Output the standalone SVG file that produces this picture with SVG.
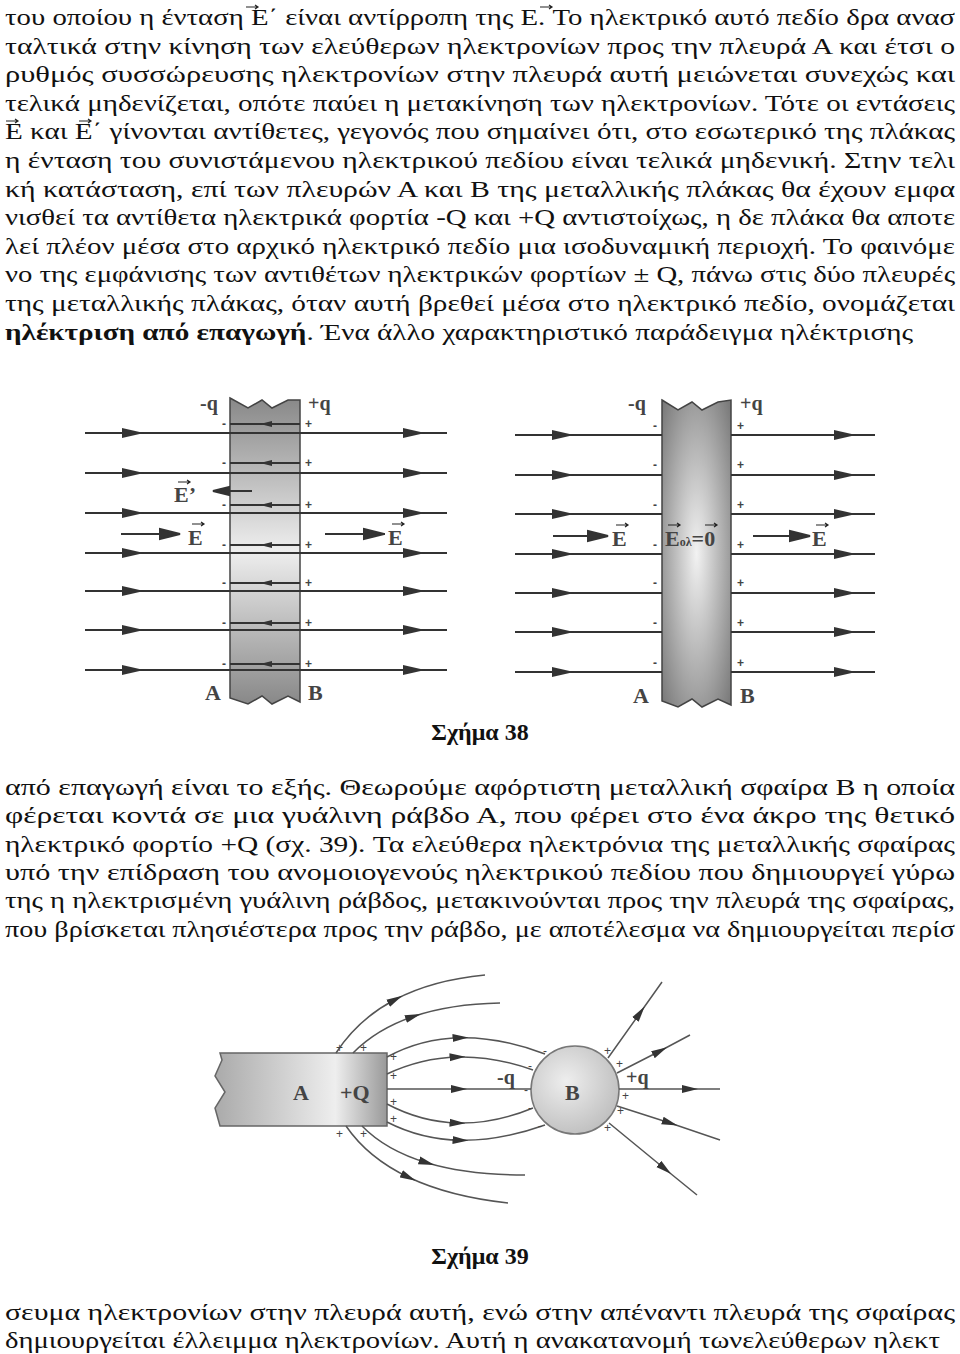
<svg xmlns="http://www.w3.org/2000/svg" width="960" height="1354" viewBox="0 0 960 1354">
<defs>
<style>
.t{font-family:"Liberation Serif","DejaVu Serif",serif;font-size:24px;fill:#111}
.b{font-weight:bold}
.l{font-family:"Liberation Serif","DejaVu Serif",serif;font-weight:bold;fill:#444}
.fl{stroke:#333;stroke-width:2;fill:none}
.cl{stroke:#555;stroke-width:1.5;fill:none}
.va{stroke:#222;stroke-width:1.2;fill:none}
.sg{font-family:"Liberation Sans",sans-serif;font-size:12px;fill:#444}
</style>
<marker id="ah2" viewBox="0 0 16 9" refX="8" refY="4.5" markerWidth="16" markerHeight="9" markerUnits="userSpaceOnUse" orient="auto"><path d="M0,0.5 L16,4.5 L0,8.5 z" fill="#333"/></marker>
<linearGradient id="pl" x1="0" y1="0" x2="0" y2="1"><stop offset="0" stop-color="#888"/><stop offset="0.5" stop-color="#eee"/><stop offset="1" stop-color="#888"/></linearGradient>
<radialGradient id="pr" cx="0.5" cy="0.5" r="0.7"><stop offset="0" stop-color="#f2f2f2"/><stop offset="1" stop-color="#777"/></radialGradient>
<linearGradient id="rd" x1="0" y1="0" x2="1" y2="0"><stop offset="0" stop-color="#aaa"/><stop offset="0.7" stop-color="#eee"/><stop offset="1" stop-color="#999"/></linearGradient>
<radialGradient id="sp" cx="0.4" cy="0.4" r="0.7"><stop offset="0" stop-color="#eee"/><stop offset="1" stop-color="#bbb"/></radialGradient>
</defs>
<rect width="960" height="1354" fill="#fff"/>
<g id="text-top" class="t">
<text x="5" y="25" textLength="950" lengthAdjust="spacingAndGlyphs">του οποίου η ένταση  E΄ είναι αντίρροπη της  E. Το ηλεκτρικό αυτό πεδίο δρα ανασ</text>
<text x="5" y="54" textLength="950" lengthAdjust="spacingAndGlyphs">ταλτικά στην κίνηση των ελεύθερων ηλεκτρονίων προς την πλευρά Α και έτσι ο</text>
<text x="5" y="82" textLength="950" lengthAdjust="spacingAndGlyphs">ρυθμός συσσώρευσης ηλεκτρονίων στην πλευρά αυτή μειώνεται συνεχώς και</text>
<text x="5" y="111" textLength="950" lengthAdjust="spacingAndGlyphs">τελικά μηδενίζεται, οπότε παύει η μετακίνηση των ηλεκτρονίων. Τότε οι εντάσεις</text>
<text x="5" y="139" textLength="950" lengthAdjust="spacingAndGlyphs">E και E΄ γίνονται αντίθετες, γεγονός που σημαίνει ότι, στο εσωτερικό της πλάκας</text>
<text x="5" y="168" textLength="950" lengthAdjust="spacingAndGlyphs">η ένταση του συνιστάμενου ηλεκτρικού πεδίου είναι τελικά μηδενική. Στην τελι</text>
<text x="5" y="197" textLength="950" lengthAdjust="spacingAndGlyphs">κή κατάσταση, επί των πλευρών Α και Β της μεταλλικής πλάκας θα έχουν εμφα</text>
<text x="5" y="225" textLength="950" lengthAdjust="spacingAndGlyphs">νισθεί τα αντίθετα ηλεκτρικά φορτία -Q και +Q αντιστοίχως, η δε πλάκα θα αποτε</text>
<text x="5" y="254" textLength="950" lengthAdjust="spacingAndGlyphs">λεί πλέον μέσα στο αρχικό ηλεκτρικό πεδίο μια ισοδυναμική περιοχή. Το φαινόμε</text>
<text x="5" y="282" textLength="950" lengthAdjust="spacingAndGlyphs">νο της εμφάνισης των αντιθέτων ηλεκτρικών φορτίων ± Q, πάνω στις δύο πλευρές</text>
<text x="5" y="311" textLength="950" lengthAdjust="spacingAndGlyphs">της μεταλλικής πλάκας, όταν αυτή βρεθεί μέσα στο ηλεκτρικό πεδίο, ονομάζεται</text>
<text x="5" y="340" textLength="908" lengthAdjust="spacingAndGlyphs"><tspan class="b">ηλέκτριση από επαγωγή</tspan>. Ένα άλλο χαρακτηριστικό παράδειγμα ηλέκτρισης</text>
</g>
<g id="fig38-left">
<path d="M230,398 L248,408 L262,400 L272,408 L288,400 L300,400 L300,702 L288,696 L272,704 L262,696 L248,704 L230,698 Z" fill="url(#pl)" stroke="#444" stroke-width="1.5"/>
<g class="fl">
<path d="M85,433 H447"/><path d="M85,473 H447"/><path d="M85,513 H447"/><path d="M85,553 H447"/><path d="M85,591 H447"/><path d="M85,630 H447"/><path d="M85,670 H447"/>
</g>
<g class="fl" stroke-width="1.5">
<path d="M230,424 H300"/><path d="M230,463 H300"/><path d="M230,505 H300"/><path d="M230,545 H300"/><path d="M230,583 H300"/><path d="M230,623 H300"/><path d="M230,664 H300"/>
</g>
</g>
<g id="fig38-right">
<path d="M662,400 L678,410 L692,402 L702,410 L718,402 L731,400 L731,705 L718,699 L702,707 L692,699 L678,707 L662,701 Z" fill="url(#pr)" stroke="#444" stroke-width="1.5"/>
<g class="fl">
<path d="M515,435 H662"/><path d="M515,475 H662"/><path d="M515,514 H662"/><path d="M515,554 H662"/><path d="M515,593 H662"/><path d="M515,632 H662"/><path d="M515,672 H662"/>
<path d="M731,435 H875"/><path d="M731,475 H875"/><path d="M731,514 H875"/><path d="M731,554 H875"/><path d="M731,593 H875"/><path d="M731,632 H875"/><path d="M731,672 H875"/>
</g>
</g>
<g id="connectors">
<g fill="#333">
<path d="M122,428 l22,5 l-22,5z"/><path d="M122,468 l22,5 l-22,5z"/><path d="M122,508 l22,5 l-22,5z"/><path d="M122,548 l22,5 l-22,5z"/><path d="M122,586 l22,5 l-22,5z"/><path d="M122,625 l22,5 l-22,5z"/><path d="M122,665 l22,5 l-22,5z"/>
<path d="M403,428 l22,5 l-22,5z"/><path d="M403,468 l22,5 l-22,5z"/><path d="M403,508 l22,5 l-22,5z"/><path d="M403,548 l22,5 l-22,5z"/><path d="M403,586 l22,5 l-22,5z"/><path d="M403,625 l22,5 l-22,5z"/><path d="M403,665 l22,5 l-22,5z"/>
<path d="M260,424 l12,-3 v6z"/><path d="M260,463 l12,-3 v6z"/><path d="M260,505 l12,-3 v6z"/><path d="M260,545 l12,-3 v6z"/><path d="M260,583 l12,-3 v6z"/><path d="M260,623 l12,-3 v6z"/><path d="M260,664 l12,-3 v6z"/>
<path d="M552,430 l22,5 l-22,5z"/><path d="M552,470 l22,5 l-22,5z"/><path d="M552,509 l22,5 l-22,5z"/><path d="M552,549 l22,5 l-22,5z"/><path d="M552,588 l22,5 l-22,5z"/><path d="M552,627 l22,5 l-22,5z"/><path d="M552,667 l22,5 l-22,5z"/>
<path d="M834,430 l22,5 l-22,5z"/><path d="M834,470 l22,5 l-22,5z"/><path d="M834,509 l22,5 l-22,5z"/><path d="M834,549 l22,5 l-22,5z"/><path d="M834,588 l22,5 l-22,5z"/><path d="M834,627 l22,5 l-22,5z"/><path d="M834,667 l22,5 l-22,5z"/>
</g>
<g class="fl">
<path d="M121,534 H180"/><path d="M160,529 l20,5 l-20,5z" fill="#333"/>
<path d="M325,534 H385"/><path d="M364,529 l20,5 l-20,5z" fill="#333"/>
<path d="M252,491 H215"/><path d="M213,491 l16,-4 v8z" fill="#333"/>
<path d="M553,536 H608"/><path d="M588,531 l20,5 l-20,5z" fill="#333"/>
<path d="M753,536 H810"/><path d="M790,531 l20,5 l-20,5z" fill="#333"/>
</g>
</g>
<g id="labels38" class="l">
<text x="200" y="410" font-size="20">-q</text><text x="308" y="410" font-size="20">+q</text>
<text x="205" y="700" font-size="22">A</text><text x="308" y="700" font-size="22">B</text>
<text x="174" y="502" font-size="22">E’</text>
<text x="188" y="545" font-size="22">E</text>
<text x="388" y="545" font-size="22">E</text>
<text x="628" y="410" font-size="20">-q</text><text x="740" y="410" font-size="20">+q</text>
<text x="633" y="703" font-size="22">A</text><text x="740" y="703" font-size="22">B</text>
<text x="612" y="546" font-size="22">E</text>
<text x="665" y="546" font-size="22">E<tspan font-size="12">ολ</tspan>=0</text>
<text x="812" y="546" font-size="22">E</text>
<g class="va">
<path d="M178,482 h12 m-3,-2 l3,2 l-3,2"/><path d="M192,524 h12 m-3,-2 l3,2 l-3,2"/><path d="M392,524 h12 m-3,-2 l3,2 l-3,2"/>
<path d="M616,525 h12 m-3,-2 l3,2 l-3,2"/><path d="M668,525 h12 m-3,-2 l3,2 l-3,2"/><path d="M705,525 h12 m-3,-2 l3,2 l-3,2"/><path d="M816,525 h12 m-3,-2 l3,2 l-3,2"/>
</g>
<g class="sg">
<text x="222" y="428">-</text><text x="222" y="467">-</text><text x="222" y="509">-</text><text x="222" y="549">-</text><text x="222" y="587">-</text><text x="222" y="627">-</text><text x="222" y="668">-</text>
<text x="305" y="428">+</text><text x="305" y="467">+</text><text x="305" y="509">+</text><text x="305" y="549">+</text><text x="305" y="587">+</text><text x="305" y="627">+</text><text x="305" y="668">+</text>
<text x="653" y="430">-</text><text x="653" y="469">-</text><text x="653" y="509">-</text><text x="653" y="549">-</text><text x="653" y="587">-</text><text x="653" y="627">-</text><text x="653" y="667">-</text>
<text x="737" y="430">+</text><text x="737" y="469">+</text><text x="737" y="509">+</text><text x="737" y="549">+</text><text x="737" y="587">+</text><text x="737" y="627">+</text><text x="737" y="667">+</text>
</g>
</g>
<text class="t b" x="480" y="740" text-anchor="middle" font-size="24">Σχήμα 38</text>
<g id="text-mid" class="t">
<text x="5" y="795" textLength="950" lengthAdjust="spacingAndGlyphs">από επαγωγή είναι το εξής. Θεωρούμε αφόρτιστη μεταλλική σφαίρα Β η οποία</text>
<text x="5" y="823" textLength="950" lengthAdjust="spacingAndGlyphs">φέρεται κοντά σε μια γυάλινη ράβδο Α, που φέρει στο ένα άκρο της θετικό</text>
<text x="5" y="852" textLength="950" lengthAdjust="spacingAndGlyphs">ηλεκτρικό φορτίο +Q (σχ. 39). Τα ελεύθερα ηλεκτρόνια της μεταλλικής σφαίρας</text>
<text x="5" y="880" textLength="950" lengthAdjust="spacingAndGlyphs">υπό την επίδραση του ανομοιογενούς ηλεκτρικού πεδίου που δημιουργεί γύρω</text>
<text x="5" y="908" textLength="950" lengthAdjust="spacingAndGlyphs">της η ηλεκτρισμένη γυάλινη ράβδος, μετακινούνται προς την πλευρά της σφαίρας,</text>
<text x="5" y="937" textLength="950" lengthAdjust="spacingAndGlyphs">που βρίσκεται πλησιέστερα προς την ράβδο, με αποτέλεσμα να δημιουργείται περίσ</text>
</g>
<g id="rod-A">
<path d="M220,1053 H387 V1126 H220 L215,1108 L225,1092 L215,1076 L222,1060 Z" fill="url(#rd)" stroke="#666" stroke-width="1.5"/>
<text class="l" x="293" y="1100" font-size="22">A</text><text class="l" x="340" y="1100" font-size="22">+Q</text>
</g>
<g id="sphere-B">
<circle cx="575" cy="1090" r="44" fill="url(#sp)" stroke="#777" stroke-width="1.5"/>
<text class="l" x="565" y="1100" font-size="22">B</text>
</g>
<g id="field39" class="cl" marker-mid="url(#ah2)">
<path d="M387,1089 L459,1089 L531,1089"/>
<path d="M619,1089 L690,1089 L720,1089"/>
<path d="M387,1057 Q421,1038.5 460.5,1037.75 Q500,1037 545,1054"/>
<path d="M387,1074 Q421,1058 457.5,1057 Q494,1056 533,1070"/>
<path d="M387,1104 Q421,1122 457.5,1123 Q494,1124 533,1108"/>
<path d="M387,1122 Q421,1139.5 460.5,1140.25 Q500,1141 545,1125"/>
<path d="M336,1053 Q358,1019 395.25,999.5 Q432.5,980 485,975"/>
<path d="M353,1053 Q376.5,1029 413.25,1016.5 Q450,1004 500,1003"/>
<path d="M346,1126 Q368,1158 408.5,1177.25 Q449,1196.5 508,1203"/>
<path d="M362,1126 Q386,1150.5 426.75,1162.75 Q467.5,1175 525,1175"/>
<path d="M608,1058 L640,1013 L662,982"/>
<path d="M617,1073 L660,1051 L690,1035"/>
<path d="M617,1106 L670,1123 L720,1140"/>
<path d="M609,1123 L665,1169 L697,1195"/>
</g>
<g id="charges39" class="sg">
<text x="336" y="1052">+</text><text x="360" y="1052">+</text><text x="390" y="1061">+</text><text x="390" y="1080">+</text><text x="390" y="1106">+</text><text x="390" y="1123">+</text><text x="336" y="1138">+</text><text x="360" y="1138">+</text>
<text x="543" y="1055">-</text><text x="528" y="1070">-</text><text x="524" y="1094">-</text><text x="528" y="1112">-</text><text x="538" y="1130">-</text>
<text x="604" y="1055">+</text><text x="616" y="1068">+</text><text x="622" y="1100">+</text><text x="617" y="1115">+</text><text x="604" y="1132">+</text>
</g>
<g class="l" font-size="20"><text x="497" y="1084">-q</text><text x="626" y="1084">+q</text></g>
<text class="t b" x="480" y="1264" text-anchor="middle" font-size="24">Σχήμα 39</text>
<g id="text-bottom" class="t">
<text x="5" y="1320" textLength="950" lengthAdjust="spacingAndGlyphs">σευμα ηλεκτρονίων στην πλευρά αυτή, ενώ στην απέναντι πλευρά της σφαίρας</text>
<text x="5" y="1348" textLength="935" lengthAdjust="spacingAndGlyphs">δημιουργείται έλλειμμα ηλεκτρονίων. Αυτή η ανακατανομή τωνελεύθερων ηλεκτ</text>
</g>
<g id="vec" class="va">
<path d="M246,7 h12 m-3,-2 l3,2 l-3,2"/><path d="M540,7 h12 m-3,-2 l3,2 l-3,2"/>
<path d="M6,121 h12 m-3,-2 l3,2 l-3,2"/><path d="M79,121 h12 m-3,-2 l3,2 l-3,2"/>
</g>
</svg>
